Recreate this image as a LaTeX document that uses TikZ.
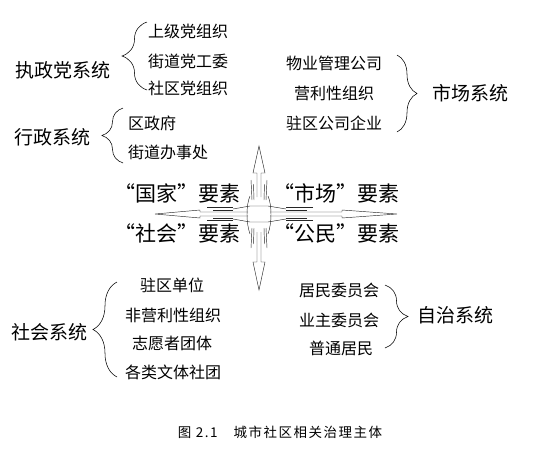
\documentclass[tikz,border=0pt]{standalone}
\usepackage{fontspec}
\setmainfont{Noto Sans CJK SC}
\usetikzlibrary{decorations.pathreplacing}
\tikzset{
  big/.style={inner sep=0pt, font=\fontsize{19}{21}\selectfont},
  item/.style={inner sep=0pt, font=\fontsize{16}{18}\selectfont},
  elem/.style={inner sep=0pt, font=\fontsize{21}{23}\selectfont},
  captext/.style={inner sep=0pt, font=\fontsize{13.5}{15}\selectfont\addfontfeature{LetterSpace=11}},
  brc/.style={draw, line width=0.55pt, decorate, decoration={brace, amplitude=#1}},
  ln/.style={line width=0.45pt, draw=black!85},
}
\begin{document}
\begin{tikzpicture}[x=1pt, y=-1pt]
\useasboundingbox (0,0) rectangle (560,456);
% ruling party system
\node[big] (zz) at (63,70) {执政党系统};
\node[item] (z1) at (188,31) {上级党组织};
\node[item] (z2) at (188,61) {街道党工委};
\node[item] (z3) at (188,88) {社区党组织};
\coordinate (b1a) at (147,90); \coordinate (b1b) at (147,22);
\draw[brc=25pt] (b1a) -- (b1b);
% administrative system
\node[big] (xz) at (53,137) {行政系统};
\node[item, anchor=west] (x1) at (128,123) {区政府};
\node[item, anchor=west] (x2) at (128,152) {街道办事处};
\coordinate (b2a) at (123,163); \coordinate (b2b) at (123,108);
\draw[brc=21pt] (b2a) -- (b2b);
% market system
\node[item] (s1) at (334,63) {物业管理公司};
\node[item] (s2) at (334,93) {营利性组织};
\node[item] (s3) at (334,123) {驻区公司企业};
\node[big] (sc) at (470,93) {市场系统};
\coordinate (b3a) at (397,55); \coordinate (b3b) at (397,132);
\draw[brc=20pt] (b3a) -- (b3b);
% social system
\node[big] (sh) at (50,332) {社会系统};
\node[item] (h1) at (172,285) {驻区单位};
\node[item] (h2) at (173,315) {非营利性组织};
\node[item] (h3) at (172,343) {志愿者团体};
\node[item] (h4) at (173,372) {各类文体社团};
\coordinate (b4a) at (117,377); \coordinate (b4b) at (117,282);
\draw[brc=24pt] (b4a) -- (b4b);
% autonomy system
\node[item] (a1) at (339,290) {居民委员会};
\node[item] (a2) at (339,320) {业主委员会};
\node[item] (a3) at (341,348) {普通居民};
\node[big] (zt) at (455,315) {自治系统};
\coordinate (b5a) at (385,285); \coordinate (b5b) at (385,348);
\draw[brc=23pt] (b5a) -- (b5b);
% four elements
\node[elem, anchor=east] (g1) at (241,193) {“国家”要素};
\node[elem, anchor=west] (g2) at (273,193) {“市场”要素};
\node[elem, anchor=east] (g3) at (241,233) {“社会”要素};
\node[elem, anchor=west] (g4) at (273,233) {“公民”要素};
% central cross of arrows
\draw[ln] (257,197) -- (257,173) -- (253,173) -- (259,146) -- (265,173) -- (261,173) -- (261,197);
\draw[ln] (257,232) -- (257,262) -- (253,262) -- (259,290) -- (265,262) -- (261,262) -- (261,232);
\draw[ln] (270,212) -- (342,212) -- (342,210) -- (397,214) -- (342,218) -- (342,216) -- (270,216);
\draw[ln] (248,212) -- (200,212) -- (200,210) -- (155,214) -- (200,218) -- (200,216) -- (248,216);
\draw[ln] (250,196) .. controls (246,205) and (246,223) .. (250,234);
\draw[ln] (268,196) .. controls (272,205) and (272,223) .. (268,234);
\draw[ln] (233,209) -- (250,206) -- (268,206) -- (286,209);
\draw[ln] (233,219) -- (250,222) -- (268,222) -- (286,219);
% stripes
\draw[ln] (251,180) -- (252,200) (253.5,184) -- (254,200) (267,180) -- (266,200) (264.5,184) -- (264,200);
\draw[ln] (251,248) -- (252,228) (253.5,244) -- (254,228) (267,248) -- (266,228) (264.5,244) -- (264,228);
\draw[ln] (207,207.5) -- (233,207.5) (213,210) -- (233,210) (207,220.5) -- (233,220.5) (213,218) -- (233,218);
\draw[ln] (313,207.5) -- (286,207.5) (307,210) -- (286,210) (313,220.5) -- (286,220.5) (307,218) -- (286,218);
% caption
\node[captext] (cp) at (280,432) {图 2.1\hspace{16pt}城市社区相关治理主体};
\end{tikzpicture}
\end{document}
